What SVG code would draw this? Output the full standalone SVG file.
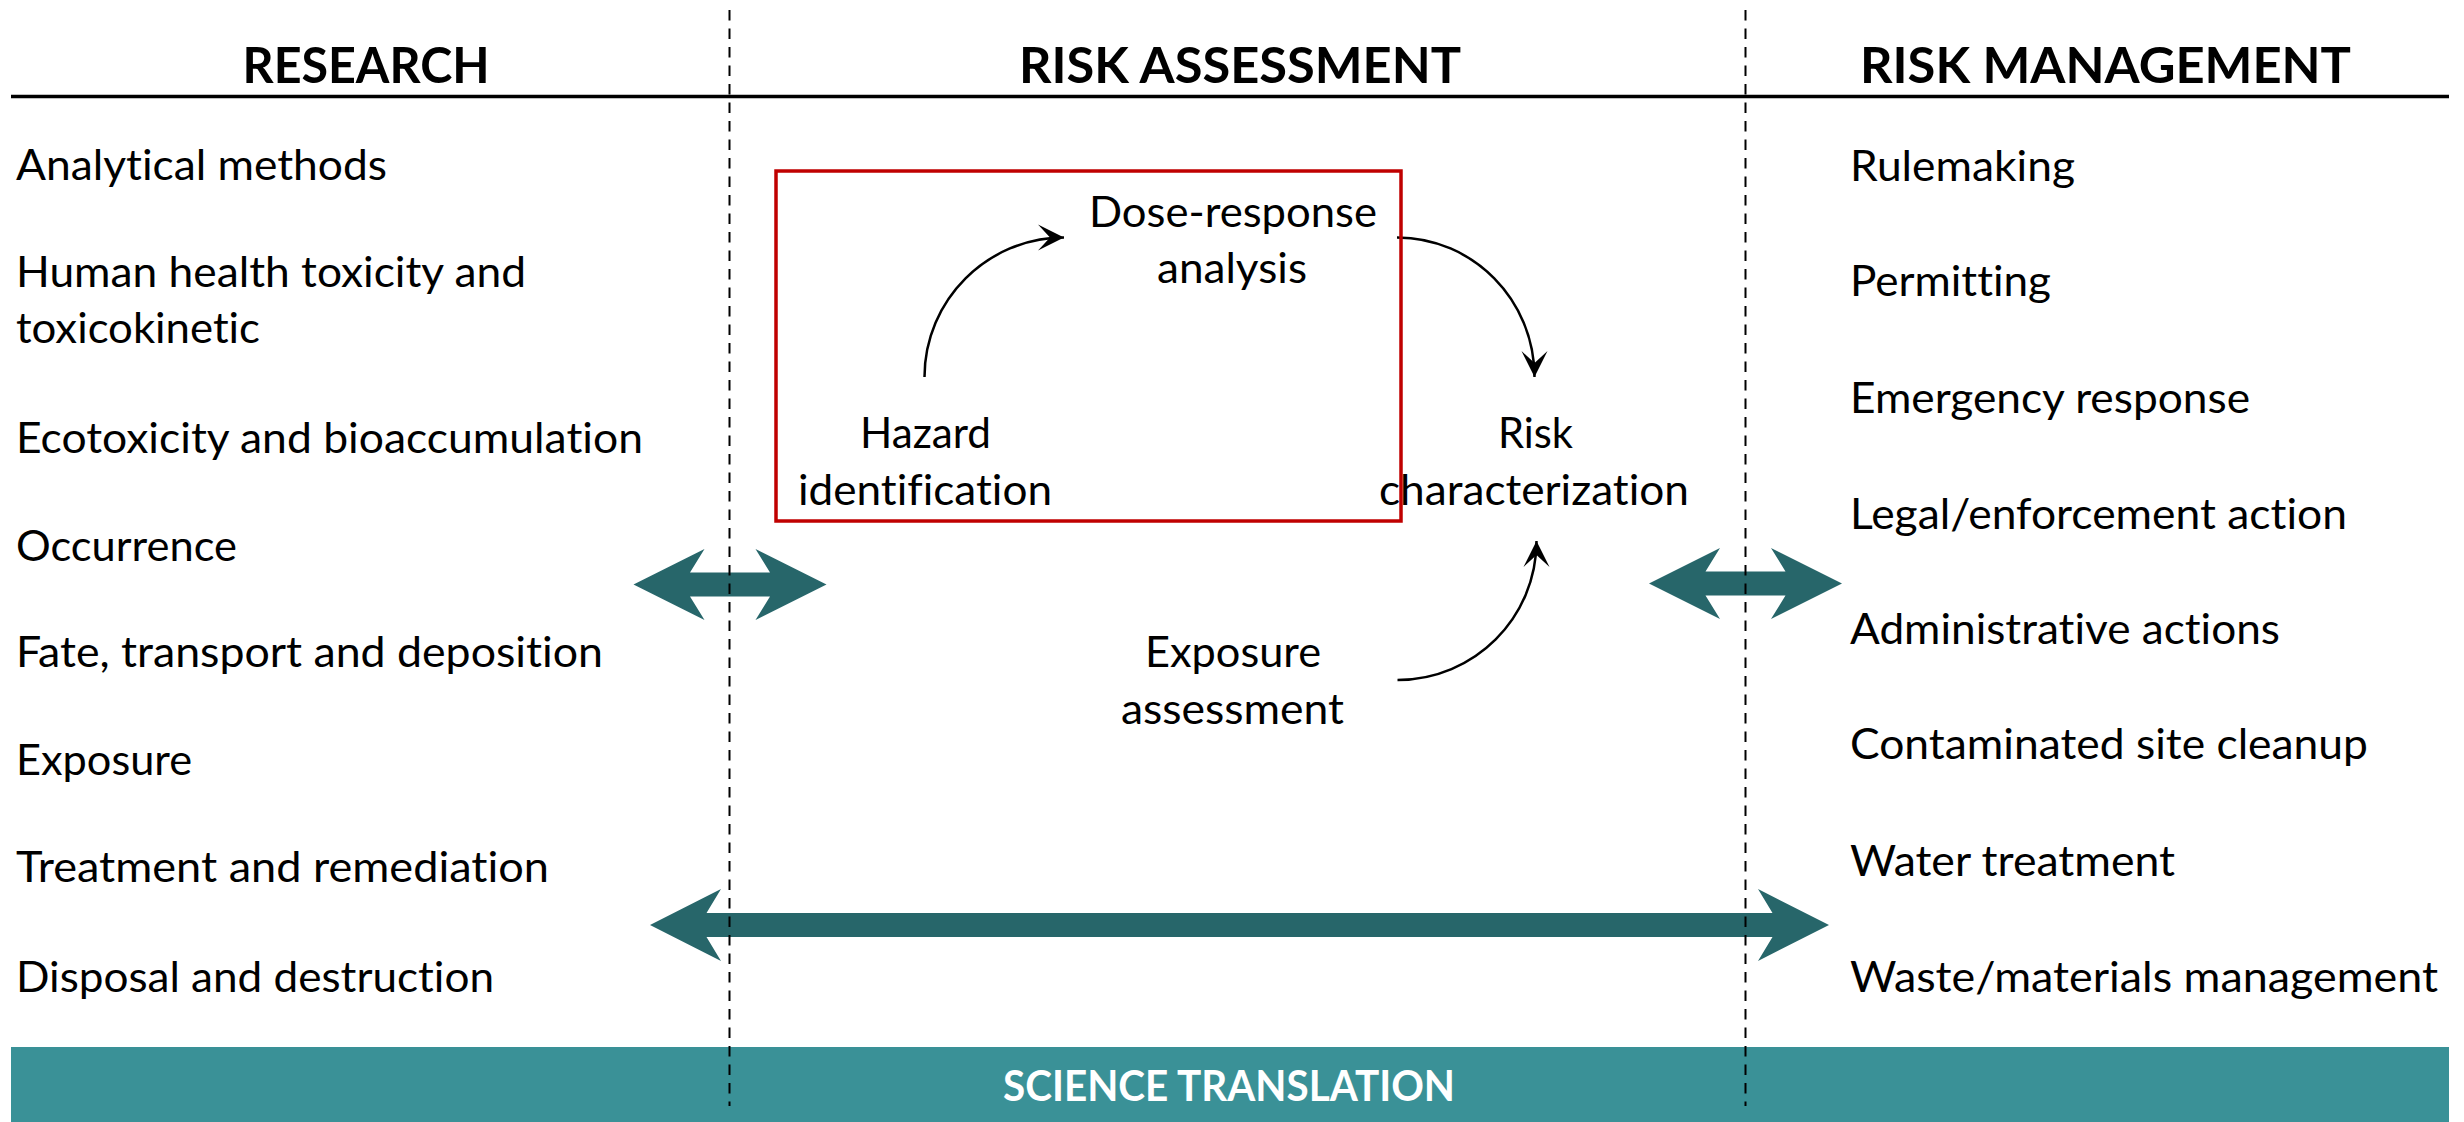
<svg xmlns="http://www.w3.org/2000/svg" width="2464" height="1122" viewBox="0 0 2464 1122">
<style>
.bg{fill:#ffffff}
text{font-variant-ligatures:none}
.hdr{font-family:Lato,"Liberation Sans",sans-serif;font-weight:bold;font-size:50px;fill:#000;text-anchor:middle}
.item{font-family:Lato,"Liberation Sans",sans-serif;font-size:42px;fill:#000}
.lbl{font-family:Lato,"Liberation Sans",sans-serif;font-size:42px;fill:#000;text-anchor:middle}
.bartxt{font-family:Lato,"Liberation Sans",sans-serif;font-weight:bold;font-size:42px;fill:#ffffff;text-anchor:middle}
.bar{fill:#3A9197}
.teal{fill:#27666A}
.dash{stroke:#000;stroke-width:2;stroke-dasharray:10.5 8;fill:none}
.rule{stroke:#000;stroke-width:3.5;fill:none}
.redbox{stroke:#C00000;stroke-width:3.5;fill:none}
.arc{stroke:#000;stroke-width:2.5;fill:none;marker-end:url(#ah)}
</style>
<defs>
<marker id="ah" viewBox="-27 -14 28 28" refX="0" refY="0" markerWidth="28" markerHeight="28" markerUnits="userSpaceOnUse" orient="auto">
<path d="M0,0 L-26,-13 L-14,0 L-26,13 Z" fill="#000"/>
</marker>
</defs>
<rect class="bg" x="0" y="0" width="2464" height="1122"/>

<g id="science-translation">
<rect class="bar" x="11" y="1047" width="2438" height="75"/>
<text class="bartxt" x="1229" y="1101" textLength="452" lengthAdjust="spacingAndGlyphs">SCIENCE TRANSLATION</text>
</g>

<g id="connectors">
<polygon class="teal" points="633.5,584.5 704.5,549 690,572.5 770,572.5 755.5,549 826.5,584.5 755.5,620 770,596.5 690,596.5 704.5,620"/>
<polygon class="teal" points="1649,583.5 1720,548 1705.5,571.5 1785.5,571.5 1771,548 1842,583.5 1771,619 1785.5,595.5 1705.5,595.5 1720,619"/>
<polygon class="teal" points="650,925 721,889 706.5,913 1772.5,913 1758,889 1829,925 1758,961 1772.5,937 706.5,937 721,961"/>
<path class="arc" d="M924.5,377 C924.5,300 987.5,237.5 1064,237.5"/>
<path class="arc" d="M1397,237.5 C1473,237.5 1534.5,300 1534.5,377"/>
<path class="arc" d="M1397.5,680 C1474,680 1536.5,618 1536.5,541"/>
</g>

<g id="dividers">
<line class="dash" x1="729.5" y1="10" x2="729.5" y2="1106"/>
<line class="dash" x1="1745.5" y1="10" x2="1745.5" y2="1106"/>
<line class="rule" x1="11" y1="96.5" x2="2449" y2="96.5"/>
</g>

<g id="header-research"><text class="hdr" x="366" y="83" textLength="247" lengthAdjust="spacingAndGlyphs">RESEARCH</text></g>
<g id="header-risk-assessment"><text class="hdr" x="1240" y="83" textLength="442" lengthAdjust="spacingAndGlyphs">RISK ASSESSMENT</text></g>
<g id="header-risk-management"><text class="hdr" x="2105.5" y="83" textLength="491" lengthAdjust="spacingAndGlyphs">RISK MANAGEMENT</text></g>

<g id="research-list">
<text class="item" x="16" y="180" textLength="371" lengthAdjust="spacingAndGlyphs">Analytical methods</text>
<text class="item" x="16" y="287" textLength="510" lengthAdjust="spacingAndGlyphs">Human health toxicity and</text>
<text class="item" x="16" y="343" textLength="244" lengthAdjust="spacingAndGlyphs">toxicokinetic</text>
<text class="item" x="16" y="453" textLength="627" lengthAdjust="spacingAndGlyphs">Ecotoxicity and bioaccumulation</text>
<text class="item" x="16" y="561" textLength="221" lengthAdjust="spacingAndGlyphs">Occurrence</text>
<text class="item" x="16" y="667" textLength="587" lengthAdjust="spacingAndGlyphs">Fate, transport and deposition</text>
<text class="item" x="16" y="775" textLength="176" lengthAdjust="spacingAndGlyphs">Exposure</text>
<text class="item" x="16" y="882" textLength="533" lengthAdjust="spacingAndGlyphs">Treatment and remediation</text>
<text class="item" x="16" y="992" textLength="478" lengthAdjust="spacingAndGlyphs">Disposal and destruction</text>
</g>

<g id="management-list">
<text class="item" x="1850" y="181" textLength="225" lengthAdjust="spacingAndGlyphs">Rulemaking</text>
<text class="item" x="1850" y="296" textLength="201" lengthAdjust="spacingAndGlyphs">Permitting</text>
<text class="item" x="1850" y="413" textLength="400" lengthAdjust="spacingAndGlyphs">Emergency response</text>
<text class="item" x="1850" y="529" textLength="497" lengthAdjust="spacingAndGlyphs">Legal/enforcement action</text>
<text class="item" x="1850" y="644" textLength="430" lengthAdjust="spacingAndGlyphs">Administrative actions</text>
<text class="item" x="1850" y="759" textLength="518" lengthAdjust="spacingAndGlyphs">Contaminated site cleanup</text>
<text class="item" x="1850" y="876" textLength="325" lengthAdjust="spacingAndGlyphs">Water treatment</text>
<text class="item" x="1850" y="992" textLength="588" lengthAdjust="spacingAndGlyphs">Waste/materials management</text>
</g>

<g id="node-dose-response">
<text class="lbl" x="1233" y="227" textLength="288" lengthAdjust="spacingAndGlyphs">Dose-response</text>
<text class="lbl" x="1232" y="283" textLength="150" lengthAdjust="spacingAndGlyphs">analysis</text>
</g>
<g id="node-hazard">
<text class="lbl" x="925.5" y="448" textLength="131" lengthAdjust="spacingAndGlyphs">Hazard</text>
<text class="lbl" x="925" y="505" textLength="254" lengthAdjust="spacingAndGlyphs">identification</text>
</g>
<g id="node-risk">
<text class="lbl" x="1535.5" y="448" textLength="75" lengthAdjust="spacingAndGlyphs">Risk</text>
<text class="lbl" x="1534" y="505" textLength="310" lengthAdjust="spacingAndGlyphs">characterization</text>
</g>
<g id="node-exposure">
<text class="lbl" x="1233" y="667" textLength="176" lengthAdjust="spacingAndGlyphs">Exposure</text>
<text class="lbl" x="1232.5" y="724" textLength="223" lengthAdjust="spacingAndGlyphs">assessment</text>
</g>

<g id="hazard-box">
<rect class="redbox" x="776" y="171" width="625" height="350"/>
</g>
</svg>
